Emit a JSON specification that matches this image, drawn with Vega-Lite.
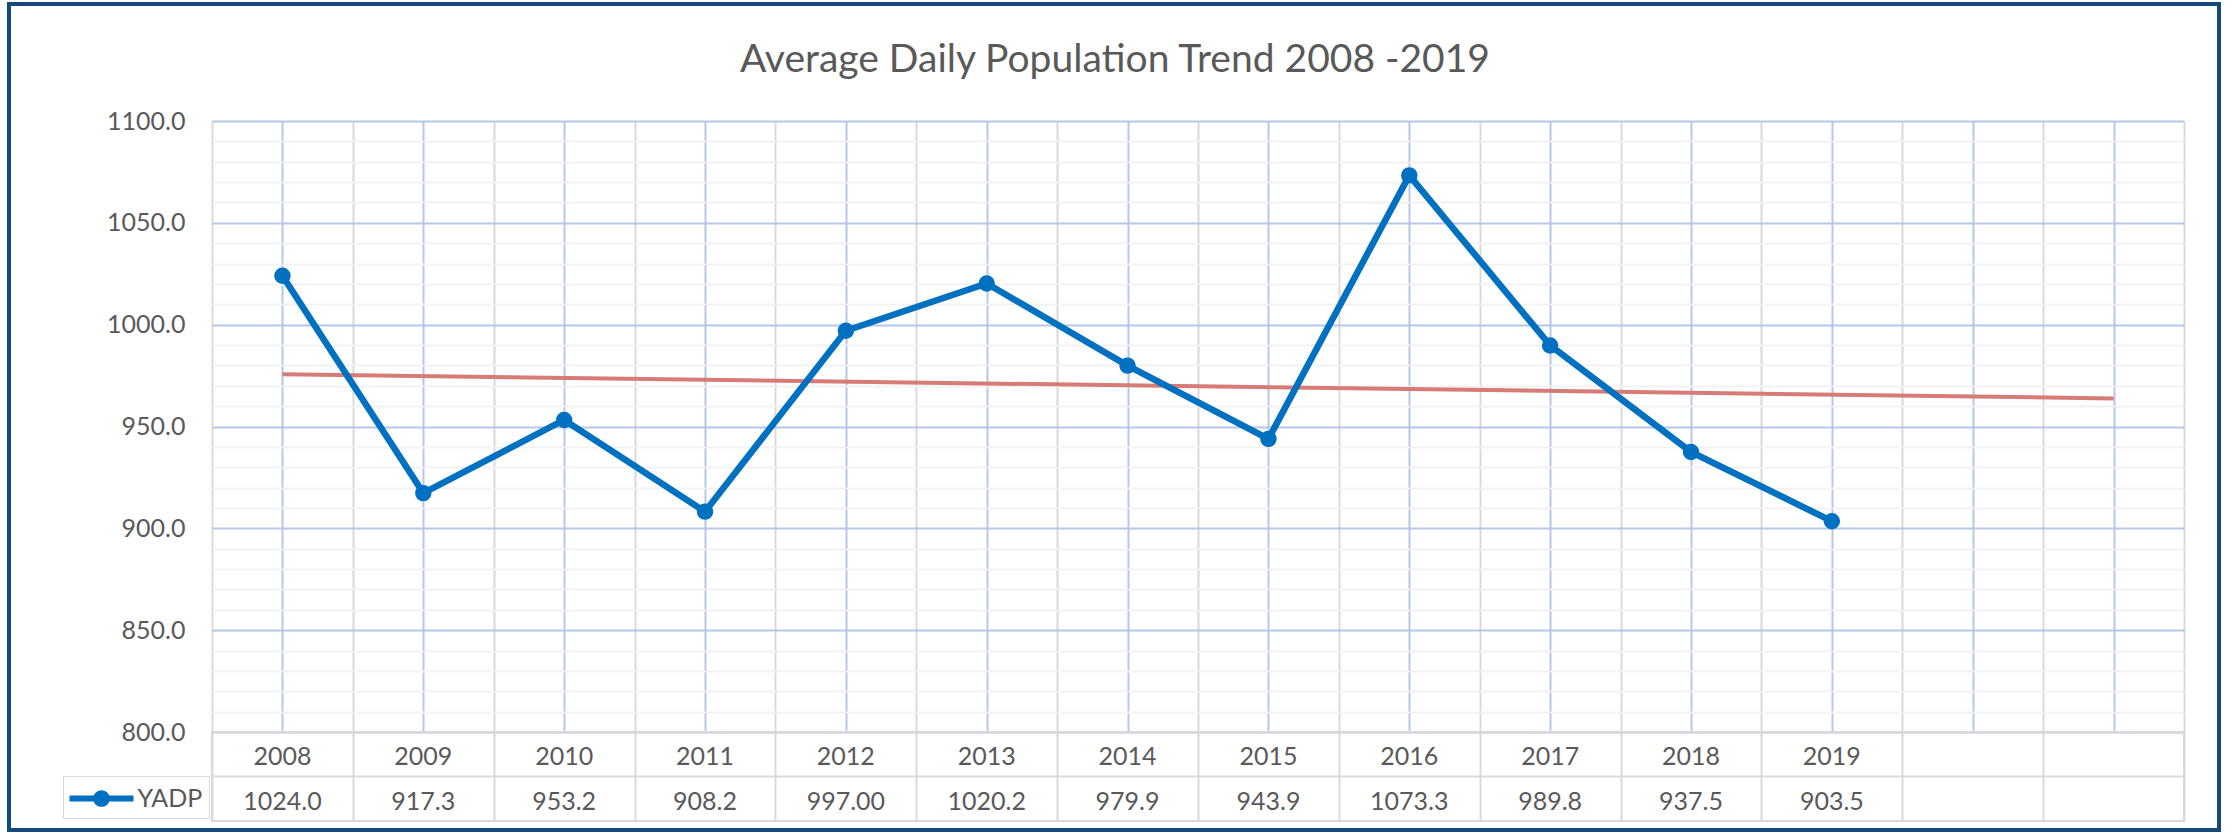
{
  "$schema": "https://vega.github.io/schema/vega-lite/v6.json",
  "background": "white",
  "padding": {"left": 9, "top": 4, "right": 0, "bottom": 0},
  "title": {"text": "Average Daily Population Trend 2008 -2019", "font": "Lato", "fontSize": 39, "fontWeight": "normal", "color": "#595959", "anchor": "middle", "offset": -76},
  "datasets": {
    "adp": [
      {"year": 2008, "value": 1024.0, "label": "1024.0", "series": "YADP"},
      {"year": 2009, "value": 917.3, "label": "917.3", "series": "YADP"},
      {"year": 2010, "value": 953.2, "label": "953.2", "series": "YADP"},
      {"year": 2011, "value": 908.2, "label": "908.2", "series": "YADP"},
      {"year": 2012, "value": 997.0, "label": "997.00", "series": "YADP"},
      {"year": 2013, "value": 1020.2, "label": "1020.2", "series": "YADP"},
      {"year": 2014, "value": 979.9, "label": "979.9", "series": "YADP"},
      {"year": 2015, "value": 943.9, "label": "943.9", "series": "YADP"},
      {"year": 2016, "value": 1073.3, "label": "1073.3", "series": "YADP"},
      {"year": 2017, "value": 989.8, "label": "989.8", "series": "YADP"},
      {"year": 2018, "value": 937.5, "label": "937.5", "series": "YADP"},
      {"year": 2019, "value": 903.5, "label": "903.5", "series": "YADP"}
    ],
    "trend": [
      {"year": 2008, "value": 975.7},
      {"year": 2021, "value": 963.8}
    ]
  },
  "bounds": "flush",
  "spacing": 0,
  "vconcat": [
    {
      "width": 1972,
      "height": 611,
      "data": {"name": "adp"},
      "encoding": {
        "x": {
          "field": "year", "type": "quantitative",
          "scale": {"domain": [2007.5, 2021.5], "nice": false, "zero": false},
          "axis": {
            "values": [2007.5, 2008, 2008.5, 2009, 2009.5, 2010, 2010.5, 2011, 2011.5, 2012, 2012.5, 2013, 2013.5, 2014, 2014.5, 2015, 2015.5, 2016, 2016.5, 2017, 2017.5, 2018, 2018.5, 2019, 2019.5, 2020, 2020.5, 2021, 2021.5],
            "grid": true,
            "gridWidth": 2,
            "gridColor": {"condition": {"test": "datum.value % 1 === 0", "value": "#b4c7e7"}, "value": "#d9d9d9"},
            "labels": false, "ticks": false, "domain": false, "title": null
          }
        },
        "y": {
          "field": "value", "type": "quantitative",
          "scale": {"domain": [800, 1100], "nice": false, "zero": false},
          "axis": {
            "values": [800, 810, 820, 830, 840, 850, 860, 870, 880, 890, 900, 910, 920, 930, 940, 950, 960, 970, 980, 990, 1000, 1010, 1020, 1030, 1040, 1050, 1060, 1070, 1080, 1090, 1100],
            "labelExpr": "datum.value % 50 === 0 ? format(datum.value, '.1f') : ''",
            "labelOverlap": false,
            "grid": true,
            "gridWidth": 2,
            "gridColor": {"condition": {"test": "datum.value % 50 === 0", "value": "#b4c7e7"}, "value": "#f2f2f2"},
            "ticks": false, "domain": false, "title": null,
            "labelPadding": 27, "labelFontSize": 25, "labelFont": "Lato", "labelColor": "#595959"
          }
        }
      },
      "layer": [
        {
          "data": {"name": "trend"},
          "mark": {"type": "line", "color": "#d77b76", "strokeWidth": 4}
        },
        {
          "mark": {"type": "line", "color": "#0070c0", "strokeWidth": 6.5}
        },
        {
          "mark": {"type": "point", "filled": true, "size": 270, "opacity": 1},
          "encoding": {
            "color": {
              "field": "series", "type": "nominal",
              "scale": {"range": ["#0070c0"]},
              "legend": {
                "orient": "none", "legendX": -149, "legendY": 655,
                "title": null,
                "symbolType": "M-1,-0.19H3V0.19H-1Z M0.48,0A0.52,0.52 0 1 1 1.52,0A0.52,0.52 0 1 1 0.48,0Z",
                "symbolSize": 1024, "symbolStrokeWidth": 0, "symbolOpacity": 1,
                "labelFontSize": 25, "labelFont": "Lato", "labelColor": "#595959", "labelOffset": 36,
                "strokeColor": "#d9d9d9", "padding": 6.5
              }
            }
          }
        }
      ]
    },
    {
      "width": 1972,
      "height": 89,
      "data": {"name": "adp"},
      "view": {"stroke": "#d9d9d9", "strokeWidth": 2},
      "encoding": {
        "x": {
          "field": "year", "type": "quantitative",
          "scale": {"domain": [2007.5, 2021.5], "nice": false, "zero": false},
          "axis": {
            "values": [2007.5, 2008.5, 2009.5, 2010.5, 2011.5, 2012.5, 2013.5, 2014.5, 2015.5, 2016.5, 2017.5, 2018.5, 2019.5, 2020.5, 2021.5],
            "grid": true, "gridWidth": 2, "gridColor": "#d9d9d9",
            "labels": false, "ticks": false, "domain": false, "title": null
          }
        }
      },
      "layer": [
        {
          "mark": {"type": "text", "font": "Lato", "fontSize": 25, "color": "#595959", "dy": 3},
          "encoding": {
            "y": {
              "datum": "Year", "type": "nominal",
              "scale": {"type": "band", "domain": ["Year", "YADP"], "paddingInner": 0, "paddingOuter": 0},
              "axis": {"grid": true, "gridWidth": 2, "gridColor": "#d9d9d9", "bandPosition": 0, "labels": false, "ticks": false, "domain": false, "title": null}
            },
            "text": {"field": "year", "type": "quantitative", "format": "d"},
            "fill": {
              "field": "year", "type": "quantitative",
              "scale": {"range": ["#595959", "#595959"]},
              "legend": {
                "orient": "none", "direction": "vertical",
                "legendX": -203, "legendY": -117,
                "title": null, "padding": 0,
                "gradientLength": 826, "gradientThickness": 2210,
                "gradientStrokeColor": "#15497a", "gradientStrokeWidth": 4,
                "labelExpr": "''", "labelFontSize": 1, "labelOffset": 0,
                "encode": {"gradient": {"update": {"fillOpacity": {"value": 0}}}}
              }
            }
          }
        },
        {
          "mark": {"type": "text", "font": "Lato", "fontSize": 25, "color": "#595959", "dy": 3},
          "encoding": {
            "y": {"datum": "YADP", "type": "nominal"},
            "text": {"field": "label", "type": "nominal"}
          }
        }
      ]
    }
  ],
  "config": {
    "view": {"stroke": null},
    "font": "Lato"
  }
}
